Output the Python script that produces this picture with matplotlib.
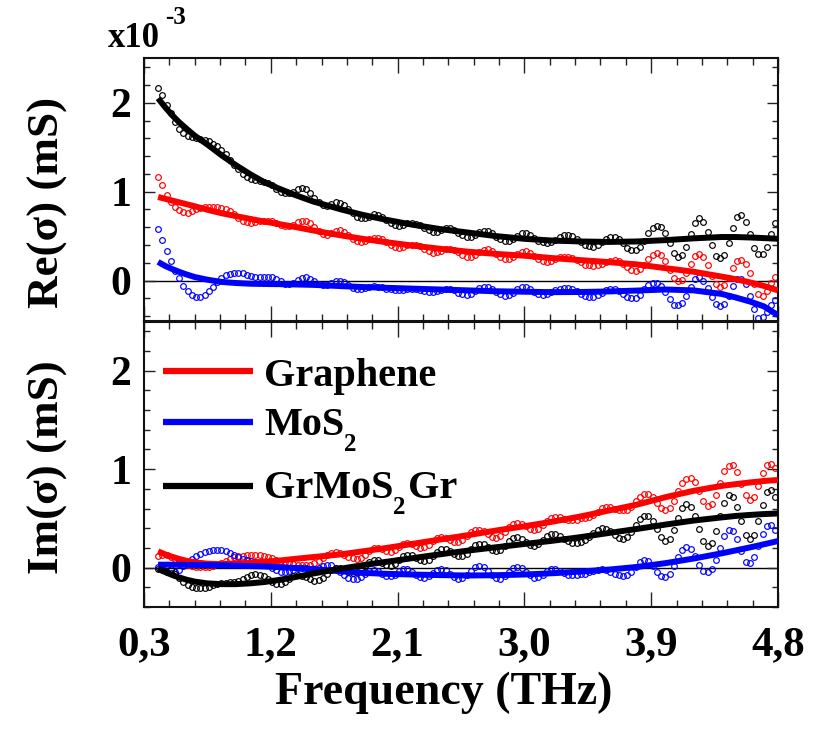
import numpy as np
import matplotlib
matplotlib.use("Agg")
import matplotlib.pyplot as plt
from matplotlib.ticker import FixedLocator, MultipleLocator

plt.rcParams['font.family'] = ['Liberation Serif', 'DejaVu Serif']
plt.rcParams['font.weight'] = 'bold'

# ---- measured conductivity (x1e-3 mS), frequency grid in THz ----
freq = np.round(0.40 + 0.03 * np.arange(147), 2)

re_graphene = [
    1.17, 1.08, 0.96, 0.88, 0.83, 0.79, 0.77, 0.765, 0.78, 0.80,
    0.815, 0.825, 0.83, 0.83, 0.825, 0.815, 0.80, 0.78, 0.745, 0.70,
    0.67, 0.655, 0.65, 0.655, 0.665, 0.675, 0.675, 0.665, 0.645, 0.625,
    0.615, 0.615, 0.63, 0.655, 0.67, 0.67, 0.645, 0.60, 0.555, 0.525,
    0.515, 0.53, 0.555, 0.565, 0.55, 0.51, 0.47, 0.445, 0.435, 0.445,
    0.465, 0.48, 0.48, 0.465, 0.435, 0.40, 0.375, 0.365, 0.375, 0.395,
    0.405, 0.405, 0.39, 0.36, 0.33, 0.315, 0.32, 0.335, 0.35, 0.355,
    0.345, 0.32, 0.29, 0.27, 0.27, 0.29, 0.325, 0.345, 0.35, 0.33,
    0.295, 0.26, 0.24, 0.24, 0.26, 0.295, 0.325, 0.33, 0.315, 0.28,
    0.245, 0.215, 0.21, 0.22, 0.245, 0.265, 0.27, 0.265, 0.25, 0.23,
    0.205, 0.18, 0.17, 0.165, 0.17, 0.19, 0.21, 0.225, 0.23, 0.22,
    0.19, 0.15, 0.12, 0.11, 0.13, 0.18, 0.24, 0.29, 0.31, 0.285,
    0.22, 0.12, 0.03, -0.005, 0.01, 0.08, 0.19, 0.28, 0.30, 0.26,
    0.17, 0.05, -0.04, -0.075, -0.05, 0.03, 0.14, 0.22, 0.235, 0.19,
    0.09, -0.04, -0.15, -0.17, -0.12, -0.03, 0.04]

re_mos2 = [
    0.585, 0.46, 0.33, 0.22, 0.11, 0.03, -0.06, -0.12, -0.16, -0.18,
    -0.18, -0.165, -0.12, -0.07, -0.02, 0.025, 0.06, 0.078, 0.085, 0.087,
    0.08, 0.065, 0.05, 0.042, 0.038, 0.037, 0.038, 0.035, 0.02, -0.01,
    -0.033, -0.04, -0.025, 0.005, 0.03, 0.037, 0.02, -0.01, -0.04, -0.055,
    -0.05, -0.025, -0.005, 0.0, -0.02, -0.055, -0.085, -0.10, -0.095, -0.08,
    -0.07, -0.065, -0.068, -0.075, -0.09, -0.10, -0.11, -0.11, -0.105, -0.095,
    -0.09, -0.093, -0.105, -0.12, -0.13, -0.13, -0.12, -0.105, -0.095, -0.095,
    -0.11, -0.135, -0.155, -0.165, -0.155, -0.12, -0.085, -0.07, -0.07, -0.09,
    -0.125, -0.155, -0.17, -0.165, -0.135, -0.095, -0.07, -0.07, -0.09, -0.125,
    -0.15, -0.16, -0.155, -0.13, -0.105, -0.09, -0.085, -0.085, -0.095, -0.12,
    -0.15, -0.17, -0.18, -0.18, -0.165, -0.135, -0.11, -0.10, -0.10, -0.115,
    -0.15, -0.185, -0.20, -0.195, -0.16, -0.10, -0.055, -0.03, -0.03, -0.06,
    -0.13, -0.21, -0.27, -0.28, -0.25, -0.17, -0.07, 0.02, 0.04, 0.0,
    -0.08, -0.18, -0.26, -0.29, -0.26, -0.17, -0.06, 0.015, 0.02, -0.04,
    -0.17, -0.32, -0.42, -0.41, -0.35, -0.28, -0.22]

re_grmos2gr = [
    2.17, 2.09, 1.98, 1.88, 1.78, 1.71, 1.66, 1.63, 1.61, 1.60,
    1.59, 1.58, 1.57, 1.54, 1.51, 1.47, 1.42, 1.36, 1.30, 1.25,
    1.20, 1.17, 1.14, 1.13, 1.12, 1.11, 1.095, 1.07, 1.03, 1.00,
    0.98, 0.98, 1.00, 1.03, 1.04, 1.025, 0.98, 0.93, 0.88, 0.85,
    0.84, 0.86, 0.88, 0.875, 0.85, 0.80, 0.76, 0.72, 0.70, 0.70,
    0.72, 0.745, 0.74, 0.72, 0.685, 0.645, 0.62, 0.61, 0.62, 0.645,
    0.65, 0.64, 0.62, 0.59, 0.565, 0.545, 0.545, 0.565, 0.59, 0.59,
    0.57, 0.54, 0.51, 0.49, 0.49, 0.51, 0.545, 0.56, 0.555, 0.53,
    0.495, 0.465, 0.445, 0.445, 0.465, 0.50, 0.53, 0.53, 0.51, 0.48,
    0.45, 0.43, 0.42, 0.43, 0.46, 0.495, 0.515, 0.515, 0.50, 0.47,
    0.43, 0.40, 0.385, 0.38, 0.395, 0.43, 0.47, 0.49, 0.49, 0.465,
    0.42, 0.37, 0.345, 0.345, 0.38, 0.44, 0.53, 0.59, 0.615, 0.60,
    0.53, 0.42, 0.31, 0.27, 0.29, 0.38, 0.52, 0.65, 0.70, 0.66,
    0.55, 0.40, 0.28, 0.25, 0.29, 0.42, 0.59, 0.72, 0.735, 0.66,
    0.52, 0.37, 0.295, 0.30, 0.38, 0.52, 0.65]

im_graphene = [
    0.12, 0.13, 0.125, 0.11, 0.09, 0.07, 0.05, 0.03, 0.015, 0.008,
    0.005, 0.006, 0.01, 0.02, 0.035, 0.05, 0.07, 0.09, 0.105, 0.115,
    0.123, 0.128, 0.13, 0.13, 0.128, 0.12, 0.11, 0.095, 0.08, 0.065,
    0.055, 0.045, 0.037, 0.03, 0.026, 0.025, 0.03, 0.045, 0.07, 0.10,
    0.13, 0.15, 0.158, 0.15, 0.13, 0.11, 0.095, 0.09, 0.10, 0.13,
    0.17, 0.195, 0.20, 0.185, 0.165, 0.16, 0.175, 0.21, 0.245, 0.255,
    0.245, 0.22, 0.20, 0.205, 0.23, 0.27, 0.30, 0.31, 0.30, 0.28,
    0.26, 0.26, 0.28, 0.32, 0.36, 0.38, 0.385, 0.37, 0.34, 0.31,
    0.30, 0.32, 0.36, 0.41, 0.44, 0.45, 0.44, 0.42, 0.395, 0.385,
    0.395, 0.43, 0.47, 0.505, 0.515, 0.51, 0.495, 0.485, 0.48, 0.485,
    0.50, 0.50, 0.51, 0.53, 0.565, 0.605, 0.62, 0.615, 0.60, 0.59,
    0.585, 0.59, 0.62, 0.675, 0.72, 0.745, 0.75, 0.72, 0.66, 0.61,
    0.59, 0.61, 0.68, 0.78, 0.86, 0.905, 0.91, 0.87, 0.78, 0.68,
    0.63, 0.65, 0.74, 0.86, 0.98, 1.03, 1.04, 0.97, 0.85, 0.74,
    0.69, 0.72, 0.83, 0.96, 1.045, 1.055, 1.01]

im_mos2 = [
    0.01, -0.02, -0.045, -0.055, -0.045, -0.02, 0.015, 0.05, 0.085, 0.115,
    0.14, 0.16, 0.172, 0.178, 0.178, 0.175, 0.165, 0.15, 0.13, 0.11,
    0.09, 0.075, 0.065, 0.06, 0.055, 0.045, 0.025, 0.0, -0.025, -0.04,
    -0.045, -0.035, -0.02, -0.005, 0.0, -0.005, -0.01, -0.01, 0.0, 0.015,
    0.025, 0.025, 0.0, -0.04, -0.08, -0.11, -0.12, -0.115, -0.095, -0.06,
    -0.03, -0.02, -0.03, -0.06, -0.085, -0.09, -0.07, -0.035, -0.015, -0.015,
    -0.04, -0.075, -0.10, -0.105, -0.085, -0.05, -0.02, -0.012, -0.025, -0.06,
    -0.095, -0.115, -0.11, -0.075, -0.03, 0.01, 0.02, 0.005, -0.035, -0.08,
    -0.11, -0.115, -0.09, -0.045, -0.005, 0.007, -0.005, -0.04, -0.08, -0.105,
    -0.10, -0.07, -0.035, -0.015, -0.013, -0.03, -0.055, -0.07, -0.072, -0.07,
    -0.068, -0.06, -0.045, -0.03, -0.02, -0.018, -0.025, -0.045, -0.065, -0.08,
    -0.085, -0.075, -0.04, 0.01, 0.055, 0.075, 0.065, 0.02, -0.04, -0.085,
    -0.095, -0.06, 0.02, 0.11, 0.18, 0.21, 0.19, 0.12, 0.03, -0.03,
    -0.045, -0.01, 0.08, 0.20, 0.32, 0.38, 0.37, 0.29, 0.17, 0.06,
    0.05, 0.11, 0.22, 0.34, 0.42, 0.43, 0.38]

im_grmos2gr = [
    -0.01, 0.025, 0.02, -0.01, -0.06, -0.11, -0.15, -0.18, -0.195, -0.205,
    -0.21, -0.205, -0.195, -0.18, -0.17, -0.16, -0.155, -0.15, -0.145, -0.135,
    -0.115, -0.095, -0.075, -0.065, -0.07, -0.09, -0.12, -0.15, -0.17, -0.165,
    -0.145, -0.115, -0.09, -0.08, -0.085, -0.10, -0.12, -0.135, -0.13, -0.105,
    -0.065, -0.025, 0.0, 0.0, -0.02, -0.04, -0.05, -0.045, -0.02, 0.02,
    0.06, 0.08, 0.075, 0.05, 0.025, 0.02, 0.04, 0.08, 0.115, 0.13,
    0.125, 0.10, 0.075, 0.065, 0.08, 0.12, 0.16, 0.185, 0.19, 0.17,
    0.14, 0.12, 0.115, 0.14, 0.185, 0.225, 0.245, 0.24, 0.21, 0.18,
    0.165, 0.175, 0.22, 0.27, 0.30, 0.31, 0.295, 0.26, 0.225, 0.215,
    0.235, 0.28, 0.32, 0.345, 0.345, 0.325, 0.295, 0.27, 0.255, 0.25,
    0.26, 0.28, 0.31, 0.35, 0.385, 0.40, 0.395, 0.37, 0.335, 0.305,
    0.295, 0.31, 0.36, 0.43, 0.49, 0.525, 0.52, 0.47, 0.39, 0.31,
    0.27, 0.29, 0.38, 0.50, 0.61, 0.65, 0.62, 0.52, 0.39, 0.27,
    0.215, 0.25, 0.37, 0.52, 0.66, 0.735, 0.72, 0.62, 0.47, 0.33,
    0.29, 0.33, 0.47, 0.64, 0.77, 0.79, 0.72]

# ---- fitted model curves ----
fit_freq = [0.40, 0.45, 0.50, 0.55, 0.60, 0.66, 0.75, 0.85, 0.95, 1.05, 1.15,
            1.25, 1.36, 1.50, 1.70, 1.85, 2.00, 2.20, 2.40, 2.60, 2.80, 3.00,
            3.20, 3.40, 3.60, 3.80, 4.00, 4.20, 4.40, 4.50, 4.60, 4.70, 4.80]

fit_re_graphene = [0.94, 0.92, 0.90, 0.88, 0.86, 0.836, 0.797, 0.758, 0.726, 0.695,
                   0.665, 0.638, 0.607, 0.564, 0.508, 0.47, 0.436, 0.395, 0.358,
                   0.325, 0.30, 0.28, 0.253, 0.23, 0.208, 0.182, 0.14, 0.10,
                   0.045, 0.015, -0.02, -0.06, -0.11]
fit_re_mos2 = [0.21, 0.165, 0.13, 0.098, 0.07, 0.04, 0.01, -0.015, -0.027, -0.035,
               -0.038, -0.04, -0.043, -0.048, -0.062, -0.072, -0.08, -0.09, -0.10,
               -0.11, -0.12, -0.125, -0.13, -0.128, -0.122, -0.112, -0.10, -0.11,
               -0.15, -0.19, -0.235, -0.29, -0.39]
fit_re_grmos2gr = [2.05, 1.95, 1.86, 1.78, 1.71, 1.63, 1.53, 1.41, 1.30, 1.20, 1.11,
                   1.04, 0.97, 0.89, 0.80, 0.74, 0.69, 0.63, 0.58, 0.54, 0.50, 0.47,
                   0.45, 0.44, 0.435, 0.44, 0.455, 0.475, 0.49, 0.49, 0.485, 0.478,
                   0.47]

fit_im_graphene = [0.165, 0.135, 0.11, 0.088, 0.07, 0.054, 0.04, 0.036, 0.042, 0.05,
                   0.06, 0.07, 0.087, 0.107, 0.135, 0.165, 0.195, 0.24, 0.285, 0.33,
                   0.377, 0.42, 0.467, 0.52, 0.58, 0.64, 0.715, 0.78, 0.83, 0.848,
                   0.865, 0.88, 0.89]
fit_im_mos2 = [0.03, 0.03, 0.03, 0.029, 0.028, 0.027, 0.026, 0.024, 0.02, 0.016,
               0.012, 0.006, -0.003, -0.015, -0.038, -0.053, -0.062, -0.07, -0.076,
               -0.08, -0.077, -0.07, -0.057, -0.04, -0.02, 0.007, 0.045, 0.092,
               0.145, 0.175, 0.205, 0.237, 0.27]
fit_im_grmos2gr = [-0.01, -0.045, -0.075, -0.10, -0.122, -0.142, -0.16, -0.168,
                   -0.168, -0.16, -0.147, -0.127, -0.10, -0.06, -0.01, 0.024, 0.055,
                   0.095, 0.135, 0.173, 0.207, 0.24, 0.273, 0.31, 0.352, 0.393,
                   0.437, 0.478, 0.51, 0.525, 0.535, 0.544, 0.55]

# legend text pieces: (text, is_subscript)
legend_parts = [
    [('Graphene', False)],
    [('MoS', False), ('2', True)],
    [('GrMoS', False), ('2', True), ('Gr', False)],
]
colors = ['#ff0000', '#0000ff', '#000000']

xtick_vals = [0.3, 1.2, 2.1, 3.0, 3.9, 4.8]
xtick_labels = ['0,3', '1,2', '2,1', '3,0', '3,9', '4,8']
ytick_vals = [0, 1, 2]
ytick_labels = ['0', '1', '2']

# ---- figure layout (pixel geometry) ----
W, H = 835, 731
fig = plt.figure(figsize=(W / 100, H / 100), dpi=100)
left, right = 144, 778
top_re, mid, bot_im = 58.3, 321.5, 607
ax_re = fig.add_axes([left / W, 1 - mid / H, (right - left) / W, (mid - top_re) / H])
ax_im = fig.add_axes([left / W, 1 - bot_im / H, (right - left) / W, (bot_im - mid) / H])

re_sets = [re_graphene, re_mos2, re_grmos2gr]
im_sets = [im_graphene, im_mos2, im_grmos2gr]
re_fits = [fit_re_graphene, fit_re_mos2, fit_re_grmos2gr]
im_fits = [fit_im_graphene, fit_im_mos2, fit_im_grmos2gr]

for ax, data_sets, fit_sets in ((ax_re, re_sets, re_fits), (ax_im, im_sets, im_fits)):
    ax.axhline(0, color='black', lw=1.0, zorder=1)
    for vals, fit, col in zip(data_sets, fit_sets, colors):
        ax.plot(freq, vals, linestyle='none', marker='o', ms=4.1, mfc='none',
                mec=col, mew=0.85, zorder=2)
        ax.plot(fit_freq, fit, color=col, lw=4.3, zorder=3, solid_capstyle='butt')

ax_re.set_ylim(-0.46, 2.5)
ax_im.set_ylim(-0.4, 2.5)

for ax in (ax_re, ax_im):
    ax.set_xlim(0.3, 4.8)
    ax.xaxis.set_major_locator(FixedLocator(xtick_vals))
    ax.xaxis.set_minor_locator(FixedLocator(np.round(np.arange(0.3, 4.81, 0.18), 2)))
    ax.yaxis.set_major_locator(FixedLocator(ytick_vals))
    ax.yaxis.set_minor_locator(MultipleLocator(0.2))
    ax.set_yticklabels(ytick_labels)
    ax.tick_params(which='both', direction='in', top=True, right=True,
                   width=1.0, color='#222222')
    ax.tick_params(axis='x', which='major', length=11)
    ax.tick_params(axis='x', which='minor', length=5)
    ax.tick_params(axis='y', which='major', length=8)
    ax.tick_params(axis='y', which='minor', length=4)
    ax.tick_params(axis='y', labelsize=30, pad=9)
    for sp in ax.spines.values():
        sp.set_linewidth(1.5)
        sp.set_color('#111111')

ax_re.tick_params(axis='x', labelbottom=False)
ax_im.set_xticklabels(xtick_labels)
ax_im.tick_params(axis='x', labelsize=31, pad=14)

# ---- legend: line keys plus labels with dropped subscripts ----
key_x0, key_x1, text_x = 163, 253, 264
rows = [(371, 385.5), (421.5, 435), (485.5, 498)]   # (key y, text baseline) in px
renderer = fig.canvas.get_renderer()
for (key_y, base_y), parts, col in zip(rows, legend_parts, colors):
    fy = (bot_im - key_y) / (bot_im - mid)
    ax_im.plot([(key_x0 - left) / (right - left), (key_x1 - left) / (right - left)],
               [fy, fy], transform=ax_im.transAxes, color=col, lw=4.5,
               solid_capstyle='butt', clip_on=False, zorder=4)
    x = text_x
    for txt, is_sub in parts:
        if is_sub:
            t = fig.text(x / W, 1 - (base_y + 16) / H, txt, fontsize=18,
                         ha='left', va='baseline')
            gap = 2.5
        else:
            t = fig.text(x / W, 1 - base_y / H, txt, fontsize=29,
                         ha='left', va='baseline')
            gap = 0
        bb = t.get_window_extent(renderer)
        x = bb.x1 + gap

fig.text(48 / W, 1 - 202 / H, 'Re(σ) (mS)', rotation=90, ha='center',
         va='center', fontsize=32.5)
fig.text(48 / W, 1 - 467 / H, 'Im(σ) (mS)', rotation=90, ha='center',
         va='center', fontsize=32.5)
fig.text(444 / W, 1 - 693 / H, 'Frequency (THz)', ha='center', va='center',
         fontsize=33)
fig.text(108 / W, 1 - 47 / H, 'x10', ha='left', va='baseline', fontsize=25)
fig.text(165 / W, 1 - 24 / H, '-3', ha='left', va='baseline', fontsize=18)

fig.savefig('out.png', dpi=100)
